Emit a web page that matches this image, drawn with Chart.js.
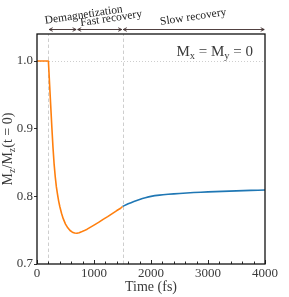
<!DOCTYPE html>
<html><head><meta charset="utf-8">
<script src="https://cdn.jsdelivr.net/npm/chart.js@4"></script>
<style>html,body{margin:0;padding:0;background:#fff}canvas{display:block}</style>
</head><body>
<canvas id="c" width="289" height="297"></canvas>
<script>
// ---- data ----
const fastTime  = [0, 200, 220, 240, 260, 280, 300, 320, 340, 360, 380, 400, 430, 460, 500, 540, 580, 620, 660, 700, 740, 780, 820, 880, 940, 1000, 1080, 1160, 1240, 1320, 1400, 1460, 1500];
const fastValue = [1.0, 1.0, 0.967, 0.935, 0.903, 0.873, 0.848, 0.829, 0.814, 0.803, 0.793, 0.785, 0.775, 0.767, 0.759, 0.7535, 0.7495, 0.747, 0.7458, 0.7455, 0.7462, 0.7475, 0.749, 0.7515, 0.7545, 0.7575, 0.7615, 0.766, 0.770, 0.7745, 0.779, 0.782, 0.785];
const slowTime  = [1500, 1600, 1700, 1800, 1900, 2000, 2150, 2300, 2500, 2750, 3000, 3250, 3500, 3750, 4000];
const slowValue = [0.785, 0.789, 0.7925, 0.7955, 0.798, 0.800, 0.8018, 0.803, 0.8043, 0.8056, 0.8066, 0.8074, 0.8081, 0.8088, 0.8094];
const xTickValues = [0, 1000, 2000, 3000, 4000];
const yTickValues = [0.7, 0.8, 0.9, 1.0];
const phaseNames = ['Demagnetization', 'Fast recovery', 'Slow recovery'];
const phaseStart = [200, 700, 1500];
const phaseEnd   = [700, 1500, 4000];
const referenceLevel = 1.0;

const SERIF = '"Liberation Serif", "DejaVu Serif", serif';
const TXT = '#3a3a3a';

const pts = (xs, ys) => xs.map((x, i) => ({x: x, y: ys[i]}));

const deco = {
  id: 'deco',
  beforeDatasetsDraw(chart) {
    const {ctx, chartArea: a, scales: {x, y}} = chart;
    ctx.save();
    ctx.strokeStyle = '#c8c8c8';
    ctx.lineWidth = 0.9;
    ctx.setLineDash([1, 2]);
    const yr = Math.round(y.getPixelForValue(referenceLevel)) + 0.5;
    ctx.beginPath(); ctx.moveTo(a.left, yr); ctx.lineTo(a.right, yr); ctx.stroke();
    ctx.setLineDash([3.5, 2.5]);
    [phaseStart[0], phaseStart[2]].forEach(t => {
      const xp = Math.round(x.getPixelForValue(t)) + 0.5;
      ctx.beginPath(); ctx.moveTo(xp, a.bottom); ctx.lineTo(xp, a.top); ctx.stroke();
    });
    ctx.restore();
  },
  afterDraw(chart) {
    const {ctx, chartArea: a, scales: {x, y}} = chart;
    ctx.save();
    ctx.strokeStyle = '#111';
    ctx.lineWidth = 1.3;
    ctx.strokeRect(a.left, a.top, a.right - a.left, a.bottom - a.top);
    ctx.lineWidth = 0.9;
    for (let t = 0; t <= 4000; t += 200) {
      const xp = Math.round(x.getPixelForValue(t)) + 0.5;
      const len = (t % 1000 === 0) ? 4 : 2.5;
      ctx.beginPath(); ctx.moveTo(xp, a.bottom); ctx.lineTo(xp, a.bottom - len); ctx.stroke();
    }
    const ay = a.top - 4.5;
    ctx.strokeStyle = '#3d2b2b';
    ctx.lineWidth = 0.9;
    phaseStart.forEach((s, i) => {
      const x1 = x.getPixelForValue(s) + 0.8, x2 = x.getPixelForValue(phaseEnd[i]) - 0.8;
      ctx.beginPath(); ctx.moveTo(x1, ay); ctx.lineTo(x2, ay);
      ctx.moveTo(x1 + 3.5, ay - 1.8); ctx.lineTo(x1, ay); ctx.lineTo(x1 + 3.5, ay + 1.8);
      ctx.moveTo(x2 - 3.5, ay - 1.8); ctx.lineTo(x2, ay); ctx.lineTo(x2 - 3.5, ay + 1.8);
      ctx.stroke();
    });
    const labelShift = [370, 200, -10];
    const labelRise = [19, 15.5, 17];
    ctx.fillStyle = '#222';
    ctx.font = '11.5px ' + SERIF;
    ctx.textAlign = 'center'; ctx.textBaseline = 'middle';
    phaseNames.forEach((n, i) => {
      const cx = x.getPixelForValue((phaseStart[i] + phaseEnd[i]) / 2 + labelShift[i]);
      const cy = a.top - labelRise[i];
      ctx.save(); ctx.translate(cx, cy); ctx.rotate(-8.5 * Math.PI / 180);
      ctx.fillText(n, 0, 0); ctx.restore();
    });
    const big = '15px ' + SERIF, small = '10.5px ' + SERIF;
    const parts = [['M', big, 0], ['x', small, 3], [' = M', big, 0], ['y', small, 3], [' = 0', big, 0]];
    let w = 0;
    parts.forEach(p => { ctx.font = p[1]; w += ctx.measureText(p[0]).width; });
    let px = a.right - 12 - w;
    const by = a.top + 22;
    ctx.fillStyle = TXT; ctx.textAlign = 'left'; ctx.textBaseline = 'alphabetic';
    parts.forEach(p => { ctx.font = p[1]; ctx.fillText(p[0], px, by + p[2]); px += ctx.measureText(p[0]).width; });
    const yb = '14px ' + SERIF, ys = '10px ' + SERIF;
    const yparts = [['M', yb, 0], ['z', ys, 3], ['/M', yb, 0], ['z', ys, 3], ['(t = 0)', yb, 0]];
    let yw = 0;
    yparts.forEach(p => { ctx.font = p[1]; yw += ctx.measureText(p[0]).width; });
    ctx.save();
    ctx.translate(12, (a.top + a.bottom) / 2);
    ctx.rotate(-Math.PI / 2);
    let qx = -yw / 2;
    yparts.forEach(p => { ctx.font = p[1]; ctx.fillText(p[0], qx, p[2]); qx += ctx.measureText(p[0]).width; });
    ctx.restore();
    ctx.restore();
  }
};

new Chart(document.getElementById('c'), {
  type: 'line',
  data: {
    datasets: [
      {data: pts(fastTime, fastValue), borderColor: '#ff7f0e', borderWidth: 1.6, tension: 0, pointRadius: 0, fill: false, borderJoinStyle: 'round'},
      {data: pts(slowTime, slowValue), borderColor: '#1f77b4', borderWidth: 1.6, tension: 0.3, pointRadius: 0, fill: false}
    ]
  },
  options: {
    responsive: false, animation: false,
    layout: {padding: {left: 0, right: 24, top: 34, bottom: 0}},
    plugins: {legend: {display: false}, tooltip: {enabled: false}},
    scales: {
      x: {
        type: 'linear', min: 0, max: 4000,
        grid: {display: false, drawTicks: false}, border: {display: false},
        ticks: {font: {family: SERIF, size: 13}, color: TXT, padding: 2, maxRotation: 0, callback: v => String(v)},
        afterBuildTicks: s => { s.ticks = xTickValues.map(v => ({value: v})); },
        afterFit: s => { s.height = 33; },
        title: {display: true, text: 'Time (fs)', font: {family: SERIF, size: 14}, color: TXT, padding: {top: 0, bottom: 1}}
      },
      y: {
        type: 'linear', min: 0.7, max: 1.04,
        grid: {drawOnChartArea: false, drawTicks: true, tickLength: 3, color: '#333'}, border: {display: false},
        ticks: {font: {family: SERIF, size: 13}, color: TXT, padding: 1, callback: v => v.toFixed(1)},
        afterBuildTicks: s => { s.ticks = yTickValues.map(v => ({value: v})); },
        afterFit: s => { s.width = 37; }
      }
    }
  },
  plugins: [deco]
});
</script>
</body></html>
